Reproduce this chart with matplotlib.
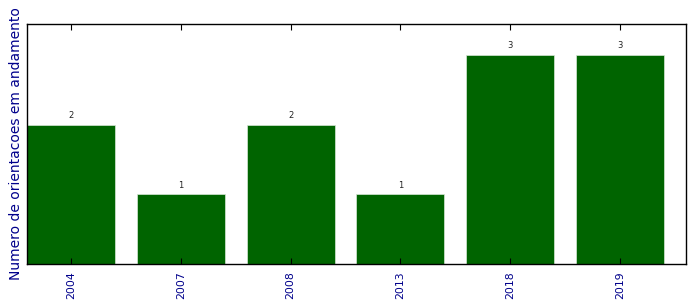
import matplotlib
matplotlib.use('Agg')
import matplotlib.pyplot as plt

# anos e numero de orientacoes
anos = ['2004', '2007', '2008', '2013', '2018', '2019']
valores = [2, 1, 2, 1, 3, 3]

fig = plt.figure(figsize=(6.96, 3.08), dpi=100)
ax = fig.add_axes([0.0388, 0.1429, 0.9468, 0.7792])

x = range(len(anos))
bars = ax.bar(x, valores, width=0.8, color='darkgreen', edgecolor='#d8e8d8', linewidth=0.5)
for b, v in zip(bars, valores):
    ax.text(b.get_x() + b.get_width() / 2, v + 0.07, str(v),
            ha='center', va='bottom', fontsize=6, color='#222222')

ax.set_xlim(-0.4, 5.6)
ax.set_ylim(0, 3.45)
ax.set_xticks(list(x))
ax.set_xticklabels(anos, rotation=90, fontsize=7.8, color='darkblue')
ax.set_yticks([])
ax.tick_params(axis='x', direction='in', top=True, length=4, pad=5)
ax.set_ylabel('Numero de orientacoes em andamento', fontsize=10, color='darkblue', labelpad=3)
for s in ax.spines.values():
    s.set_linewidth(1.0)

fig.savefig('out.png', dpi=100)
